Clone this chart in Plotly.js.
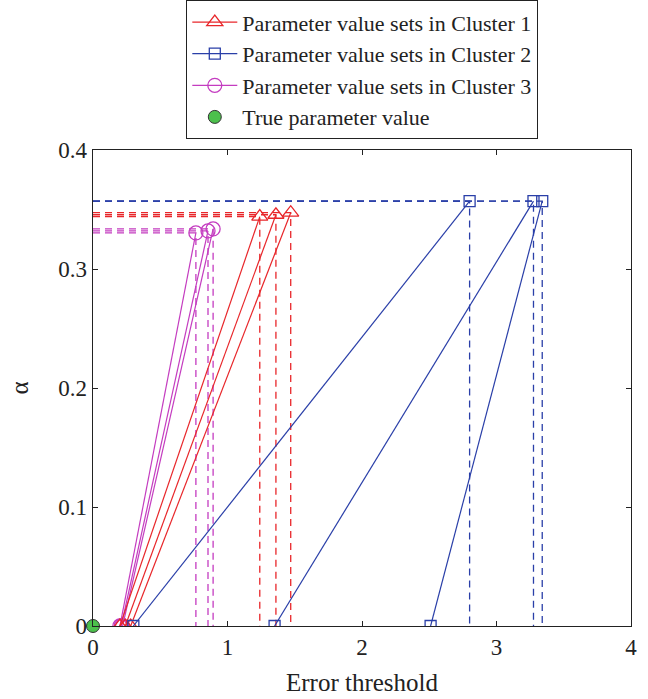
<!DOCTYPE html>
<html>
<head>
<meta charset="utf-8">
<script src="https://cdn.plot.ly/plotly-3.0.1.min.js"></script>
<style>html,body{margin:0;padding:0;background:#fff;}#chart{width:648px;height:699px;}</style>
</head>
<body>
<div id="chart"></div>
<script>
// Cluster 1 (red): start error threshold (alpha = 0) -> end point
const c1Start = [0.20, 0.24, 0.28];
const c1EndX = [1.24, 1.36, 1.47];
const c1EndA = [0.344, 0.3456, 0.3473];
// Cluster 2 (blue)
const c2Start = [0.30, 1.35, 2.51];
const c2EndX = [2.80, 3.275, 3.34];
const c2EndA = [0.357, 0.357, 0.357];
// Cluster 3 (magenta)
const c3Start = [0.20, 0.21, 0.22];
const c3EndX = [0.765, 0.855, 0.893];
const c3EndA = [0.3303, 0.332, 0.3337];
// True parameter value
const trueX = [0];
const trueA = [0];
const legendNames = ['Parameter value sets in Cluster 1','Parameter value sets in Cluster 2','Parameter value sets in Cluster 3','True parameter value'];

const red = '#e8262a', blue = '#2a3fa8', mag = '#c43cc0';

function segs(starts, ex, ea) {
  const x = [], y = [];
  for (let i = 0; i < starts.length; i++) { x.push(starts[i], ex[i], null); y.push(0, ea[i], null); }
  return {x, y};
}
function guides(ex, ea) {
  const x = [], y = [];
  for (let i = 0; i < ex.length; i++) { x.push(0, ex[i], ex[i], null); y.push(ea[i], ea[i], 0, null); }
  return {x, y};
}
const traces = [];
[[c1EndX, c1EndA, red], [c2EndX, c2EndA, blue], [c3EndX, c3EndA, mag]].forEach(([ex, ea, col]) => {
  const g = guides(ex, ea);
  traces.push({x: g.x, y: g.y, mode: 'lines', showlegend: false, hoverinfo: 'skip',
    line: {color: col, width: 1.3, dash: '7px,5px'}});
});
const clusters = [[c3Start, c3EndX, c3EndA, mag, 'circle-open', 14, 2],
                  [c1Start, c1EndX, c1EndA, red, 'triangle-up-open', 14, 0],
                  [c2Start, c2EndX, c2EndA, blue, 'square-open', 11, 1]];
clusters.forEach(([s, ex, ea, col, sym, sz, k]) => {
  const p = segs(s, ex, ea);
  traces.push({x: p.x, y: p.y, mode: 'lines+markers', name: legendNames[k], legendrank: 100 + k,
    line: {color: col, width: 1.2},
    marker: {symbol: sym, size: sz, color: col, line: {color: col, width: 1.3}}});
});
traces.push({x: trueX, y: trueA, mode: 'markers', name: legendNames[3], legendrank: 103, cliponaxis: false,
  marker: {symbol: 'circle', size: 13, color: '#4cc04c', line: {color: '#333', width: 1}}});

const fam = '"Liberation Serif", "Times New Roman", serif';
const tickFont = {family: fam, size: 23, color: '#222'};
const titleFont = {family: fam, size: 25, color: '#222'};
const legFont = {family: fam, size: 22, color: '#222'};
const layout = {
  width: 648, height: 699,
  margin: {l: 93, r: 17, t: 150, b: 73},
  paper_bgcolor: '#fff', plot_bgcolor: '#fff',
  font: tickFont,
  showlegend: true,
  legend: {x: 0.5, xanchor: 'center', yref: 'container', y: 1, yanchor: 'top', bgcolor: '#fff',
    bordercolor: '#222', borderwidth: 1.3, font: legFont, tracegroupgap: 0, itemwidth: 45,
    traceorder: 'normal'},
  xaxis: {range: [0, 4], tickvals: [0, 1, 2, 3, 4], ticktext: ['0','1','2','3','4'],
    showgrid: false, zeroline: false, showline: true, linecolor: '#222', linewidth: 1.3,
    mirror: 'ticks', ticks: 'inside', ticklen: 5, tickcolor: '#222', tickfont: tickFont,
    title: {text: 'Error threshold', font: titleFont, standoff: 14}},
  yaxis: {range: [0, 0.4], tickvals: [0, 0.1, 0.2, 0.3, 0.4], ticktext: ['0','0.1','0.2','0.3','0.4'],
    showgrid: false, zeroline: false, showline: true, linecolor: '#222', linewidth: 1.3,
    mirror: 'ticks', ticks: 'inside', ticklen: 5, tickcolor: '#222', tickfont: tickFont,
    title: {text: 'α', font: titleFont, standoff: 22}}
};
Plotly.newPlot('chart', traces, layout, {displayModeBar: false, staticPlot: true});
</script>
</body>
</html>
